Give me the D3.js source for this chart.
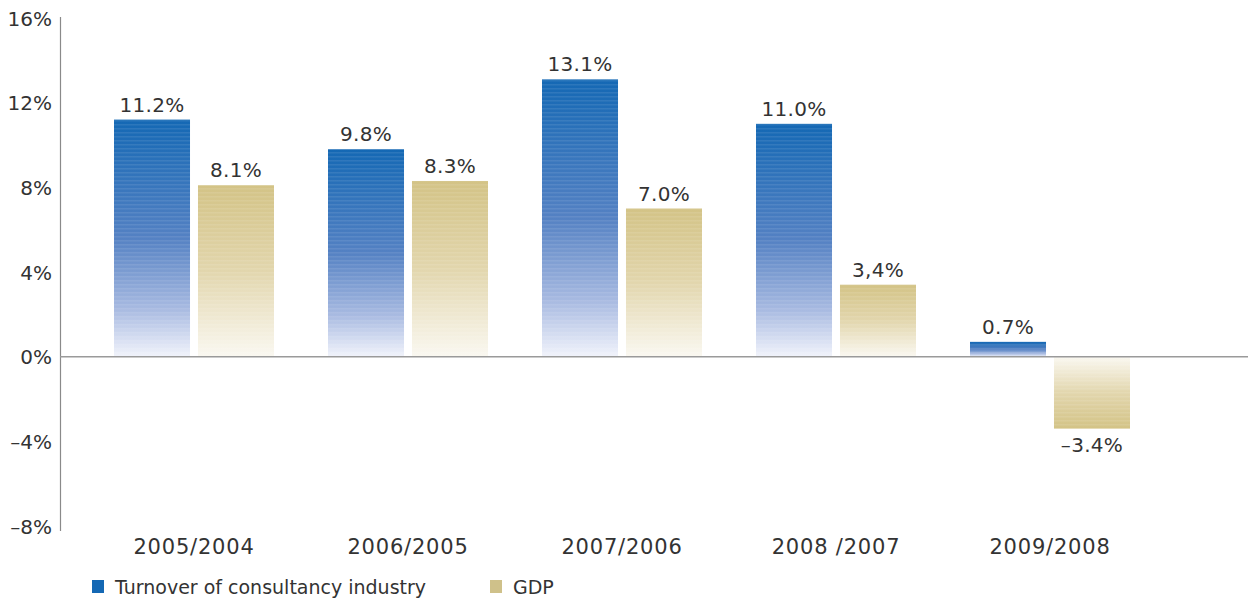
<!DOCTYPE html>
<html>
<head>
<meta charset="utf-8">
<script src="https://cdn.jsdelivr.net/npm/d3@7"></script>
<style>
  html, body { margin: 0; padding: 0; background: #fff; }
  svg { display: block; }
  text { font-family: "DejaVu Sans", sans-serif; fill: #333; }
</style>
</head>
<body>
<svg id="chart" width="1248" height="600"></svg>
<script>
// Growth rates, year over year (%)
const periods = ["2005/2004", "2006/2005", "2007/2006", "2008 /2007", "2009/2008"];
const turnover = [11.2, 9.8, 13.1, 11.0, 0.7];
const gdp = [8.1, 8.3, 7.0, 3.4, -3.4];
const turnoverLabels = ["11.2%", "9.8%", "13.1%", "11.0%", "0.7%"];
const gdpLabels = ["8.1%", "8.3%", "7.0%", "3,4%", "\u20133.4%"];
const yTicks = [16, 12, 8, 4, 0, -4, -8];
const seriesNames = ["Turnover of consultancy industry", "GDP"];

const svg = d3.select("#chart");

const y = d3.scaleLinear().domain([-8, 16]).range([526, 18]);
const x0 = d3.scaleBand().domain(periods).range([87, 1157]).padding(0);
const groupW = 160;
const x1 = d3.scaleBand().domain(["turnover", "gdp"]).range([0, groupW]).paddingInner(0.095);

// Gradients fade towards the zero line
const defs = svg.append("defs");
function grad(id, stops, flip) {
  const g = defs.append("linearGradient").attr("id", id)
    .attr("x1", 0).attr("x2", 0).attr("y1", flip ? 1 : 0).attr("y2", flip ? 0 : 1);
  stops.forEach(s => g.append("stop").attr("offset", s[0]).attr("stop-color", s[1]));
}
const blueStops = [[0, "#1468b4"], [0.5, "#5481c3"], [0.8, "#a8bae1"], [1, "#f1f3fb"]];
const goldStops = [[0, "#d3c386"], [0.5, "#e2d6ad"], [1, "#faf8f1"]];
grad("blueUp", blueStops, false);
grad("blueDown", blueStops, true);
grad("goldUp", goldStops, false);
grad("goldDown", goldStops, true);

// Fine horizontal banding on the bars
const pat = defs.append("pattern").attr("id", "bands")
  .attr("patternUnits", "userSpaceOnUse").attr("width", 8).attr("height", 4);
pat.append("rect").attr("x", 0).attr("y", 0).attr("width", 8).attr("height", 1.5)
  .attr("fill", "#fff").attr("opacity", 0.09);

// Y axis
const yAxis = d3.axisLeft(y).tickValues(yTicks)
  .tickFormat(d => (d < 0 ? "\u2013" + Math.abs(d) : d) + "%")
  .tickSize(0).tickPadding(8);
const ya = svg.append("g").attr("transform", "translate(60,0)").call(yAxis);
ya.select(".domain").remove();
ya.selectAll("text").style("font-size", "20px").attr("fill", "#333")
  .style("font-family", "DejaVu Sans, sans-serif").attr("dy", "0.36em");
svg.append("line").attr("x1", 60.5).attr("x2", 60.5)
  .attr("y1", y(16) - 1).attr("y2", y(-8) + 5)
  .attr("stroke", "#8a8a8a").attr("stroke-width", 1.2);

// Bars
const rows = periods.map((p, i) => [
  { period: p, key: "turnover", value: turnover[i], label: turnoverLabels[i] },
  { period: p, key: "gdp", value: gdp[i], label: gdpLabels[i] }
]).flat();

const barX = d => x0(d.period) + (x0.bandwidth() - groupW) / 2 + x1(d.key);

const bars = svg.append("g");
bars.selectAll("rect.bar").data(rows).join("rect")
  .attr("class", "bar")
  .attr("x", barX)
  .attr("width", x1.bandwidth())
  .attr("y", d => y(Math.max(0, d.value)))
  .attr("height", d => Math.abs(y(d.value) - y(0)))
  .attr("fill", d => "url(#" + (d.key === "turnover" ? "blue" : "gold") + (d.value >= 0 ? "Up" : "Down") + ")");
bars.selectAll("rect.band").data(rows).join("rect")
  .attr("class", "band")
  .attr("x", barX)
  .attr("width", x1.bandwidth())
  .attr("y", d => y(Math.max(0, d.value)))
  .attr("height", d => Math.abs(y(d.value) - y(0)))
  .attr("fill", "url(#bands)");

// Zero line
svg.append("line").attr("x1", 60).attr("x2", 1248)
  .attr("y1", y(0)).attr("y2", y(0))
  .attr("stroke", "#9a9a9a").attr("stroke-width", 1.5);

// Value labels
svg.append("g").selectAll("text").data(rows).join("text")
  .attr("x", d => barX(d) + x1.bandwidth() / 2)
  .attr("y", d => d.value >= 0 ? y(d.value) - 8 : y(d.value) + 23)
  .attr("text-anchor", "middle")
  .style("font-size", "20px")
  .style("letter-spacing", "0.3px")
  .text(d => d.label);

// Category labels
const xAxis = d3.axisBottom(x0).tickSize(0).tickPadding(0);
const xa = svg.append("g").attr("transform", "translate(0,535)").call(xAxis);
xa.select(".domain").remove();
xa.selectAll("text").style("font-size", "21px").attr("fill", "#333")
  .style("letter-spacing", "0.8px")
  .style("font-family", "DejaVu Sans, sans-serif").attr("dy", "0.9em");

// Legend
const legendX = [92, 490];
const legendColors = ["#1468b4", "#cfc18a"];
const lg = svg.append("g");
seriesNames.forEach((n, i) => {
  lg.append("rect").attr("x", legendX[i]).attr("y", 580).attr("width", 12).attr("height", 13)
    .attr("fill", legendColors[i]);
  lg.append("text").attr("x", legendX[i] + 23).attr("y", 594)
    .style("font-size", "19px").text(n);
});
</script>
</body>
</html>
